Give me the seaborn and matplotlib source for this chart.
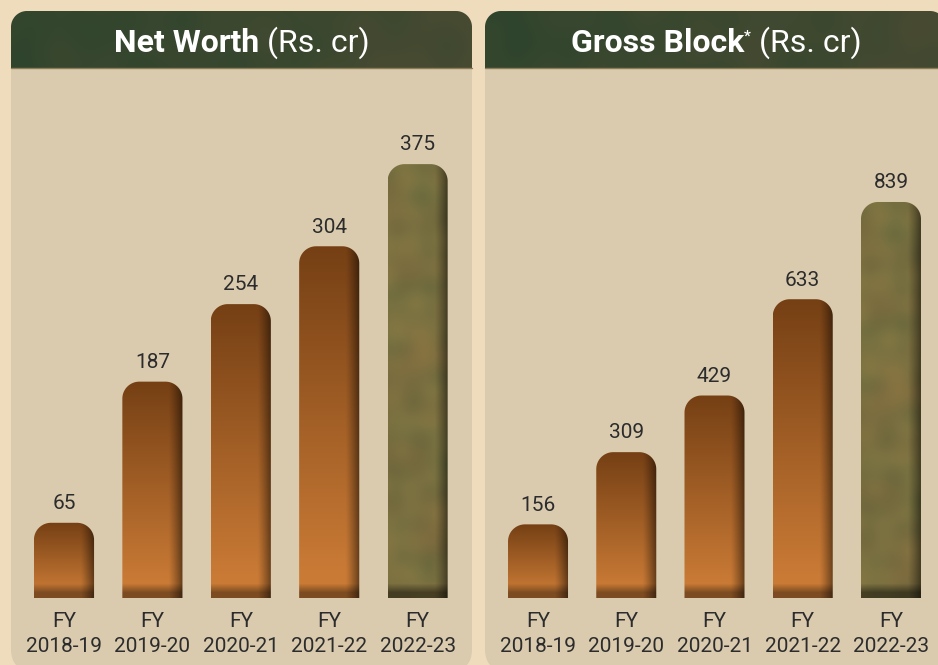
import numpy as np
import matplotlib.pyplot as plt
import seaborn as sns
from matplotlib.patches import FancyBboxPatch, PathPatch
from matplotlib.path import Path

# data
years = ["FY\n2018-19", "FY\n2019-20", "FY\n2020-21", "FY\n2021-22", "FY\n2022-23"]
net_worth = [65, 187, 254, 304, 375]
gross_block = [156, 309, 429, 633, 839]

sns.set_theme(style="white")
plt.rcParams["font.family"] = ["Roboto", "DejaVu Sans"]

W, H = 938, 665
OUTER = "#eedcbd"
PANEL = "#dacbaf"
TXT = "#2c2c2c"

fig = plt.figure(figsize=(9.38, 6.65), dpi=100)
fig.patch.set_facecolor(OUTER)

# background layer in pixel units
bg = fig.add_axes([0, 0, 1, 1])
bg.set_xlim(0, W)
bg.set_ylim(H, 0)
bg.axis("off")


def rounded_top(x0, x1, yb, yt, rx, ry, n=24):
    s = 1.0 if yt > yb else -1.0
    pts = [(x0, yb), (x0, yt - s * ry)]
    cx, cy = x0 + rx, yt - s * ry
    for a in np.linspace(np.pi, np.pi / 2, n):
        pts.append((cx + rx * np.cos(a), cy + s * ry * np.sin(a)))
    cx = x1 - rx
    for a in np.linspace(np.pi / 2, 0, n):
        pts.append((cx + rx * np.cos(a), cy + s * ry * np.sin(a)))
    pts += [(x1, yb), (x0, yb)]
    codes = [Path.MOVETO] + [Path.LINETO] * (len(pts) - 2) + [Path.CLOSEPOLY]
    return Path(pts, codes)


def mottle(h, w, ph=0.0, scale=1.0):
    yy, xx = np.mgrid[0:h, 0:w].astype(float)
    n = np.zeros((h, w))
    waves = [(0.031, 0.017, 0.3), (0.013, 0.041, 1.7), (0.057, 0.023, 2.9),
             (0.007, 0.011, 4.1), (0.083, 0.067, 5.3), (0.021, 0.09, 0.9)]
    for fx, fy, p in waves:
        n += np.sin(scale * (fx * xx + fy * yy) + p + ph) * np.cos(scale * (fy * xx - fx * yy) + 0.7 * p)
    return (n - n.min()) / (n.max() - n.min())


def blend(c1, c2, t):
    c1 = np.array(c1)
    c2 = np.array(c2)
    return c1 * (1 - t[..., None]) + c2 * t[..., None]


# panels + headers
for x0 in [11, 485]:
    x1 = x0 + 461
    body = FancyBboxPatch((x0, 11), 461, 660, boxstyle="round,pad=0,rounding_size=22",
                          facecolor=PANEL, edgecolor="none", zorder=1)
    bg.add_patch(body)
    hh, hw = 57, 461
    m = mottle(hh, hw, ph=x0 * 0.01, scale=0.8)
    xs = np.linspace(0, 1, hw)[None, :] * np.ones((hh, 1))
    tex = blend((0.15, 0.26, 0.17), (0.31, 0.30, 0.20), np.clip(0.3 * m + 0.55 * xs + 0.1, 0, 1))
    im = bg.imshow(tex, extent=(x0, x1, 68, 11), origin="upper", aspect="auto", zorder=2,
                   interpolation="bilinear")
    clip = PathPatch(rounded_top(x0, x1, 68, 11, 16, 16), transform=bg.transData,
                     facecolor="none", edgecolor="none")
    bg.add_patch(clip)
    im.set_clip_path(clip)
    bg.plot([x0, x1], [68, 68], color="#8c7d58", lw=1, zorder=3)


def title(cx, base, parts):
    r = fig.canvas.get_renderer()
    items = []
    for s, wt, sz, rise in parts:
        t = bg.text(0, base - rise, s, color="white", fontsize=sz, fontweight=wt,
                    ha="left", va="baseline", zorder=5)
        items.append((t, t.get_window_extent(r).width))
    total = sum(w for _, w in items)
    x = cx - total / 2
    for t, w in items:
        t.set_x(x)
        x += w


title(242, 52, [("Net Worth", "bold", 23, 0), (" (Rs. cr)", "normal", 23, 0)])
title(716, 52, [("Gross Block", "bold", 23, 0), ("*", "bold", 11, 11), (" (Rs. cr)", "normal", 23, 0)])


def bar_panel(rect, values, ymax):
    ax = fig.add_axes(rect)
    sns.barplot(x=years, y=values, width=0.68, ax=ax, color="#b06a2a")
    ax.set_ylim(0, ymax)
    ax.set_xlim(-0.5, 4.5)
    ax.patch.set_alpha(0)
    for sp in ax.spines.values():
        sp.set_visible(False)
    ax.set_yticks([])
    ax.set_xlabel("")
    ax.set_ylabel("")
    ax.tick_params(axis="x", length=0, pad=10, labelsize=15, labelcolor=TXT)
    for lbl in ax.get_xticklabels():
        lbl.set_linespacing(1.38)

    fig.canvas.draw()
    sx = ax.transData.transform((1, 0))[0] - ax.transData.transform((0, 0))[0]
    sy = ax.transData.transform((0, 1))[1] - ax.transData.transform((0, 0))[1]
    n = len(ax.patches)
    for i, p in enumerate(ax.patches):
        x0, w, h = p.get_x(), p.get_width(), p.get_height()
        p.set_alpha(0)
        hp = max(int(h * sy), 2)
        wp = max(int(w * sx), 2)
        ty = np.linspace(0, 1, hp)[:, None] * np.ones((1, wp))
        tx = np.ones((hp, 1)) * np.linspace(0, 1, wp)[None, :]
        if i < n - 1:
            img = blend((0.46, 0.25, 0.08), (0.79, 0.48, 0.21), np.clip(ty * 1.08, 0, 1))
            bot_dark = 0.62
        else:
            m = mottle(hp, wp, ph=2.0, scale=1.4)
            m2 = mottle(hp, wp, ph=4.5, scale=0.9)
            img = blend((0.40, 0.41, 0.24), (0.52, 0.48, 0.27), m)
            img = img * (1 - 0.4 * m2[..., None]) + np.array((0.54, 0.39, 0.23)) * 0.4 * m2[..., None]
            bot_dark = 0.55
        # right edge shadow
        px_x = (1 - tx) * wp
        shade = 1 - 0.5 * np.clip(1 - px_x / 14, 0, 1) ** 1.2
        # bottom dark band, soft
        px_y = (1 - ty) * hp
        band = 1 - (1 - bot_dark) * np.clip(1 - (px_y - 5) / 9, 0, 1)
        img = np.clip(img * shade[..., None] * band[..., None], 0, 1)
        im = ax.imshow(img, extent=(x0, x0 + w, 0, h), origin="upper", aspect="auto",
                       interpolation="bilinear", zorder=3)
        r = 17
        clip = PathPatch(rounded_top(x0, x0 + w, 0, h, r / sx, r / sy), transform=ax.transData,
                         facecolor="none", edgecolor="none")
        ax.add_patch(clip)
        im.set_clip_path(clip)
    ax.set_xlim(-0.5, 4.5)
    ax.set_ylim(0, ymax)
    ax.bar_label(ax.containers[0], padding=7, fontsize=15, color=TXT)
    return ax


bar_panel([19.8 / W, (H - 598) / H, 442 / W, 498 / H], net_worth, 498 / 1.157)
bar_panel([493.9 / W, (H - 598) / H, 441.2 / W, 498 / H], gross_block, 498 / 0.472)

fig.savefig("out.png", dpi=100, facecolor=OUTER)
